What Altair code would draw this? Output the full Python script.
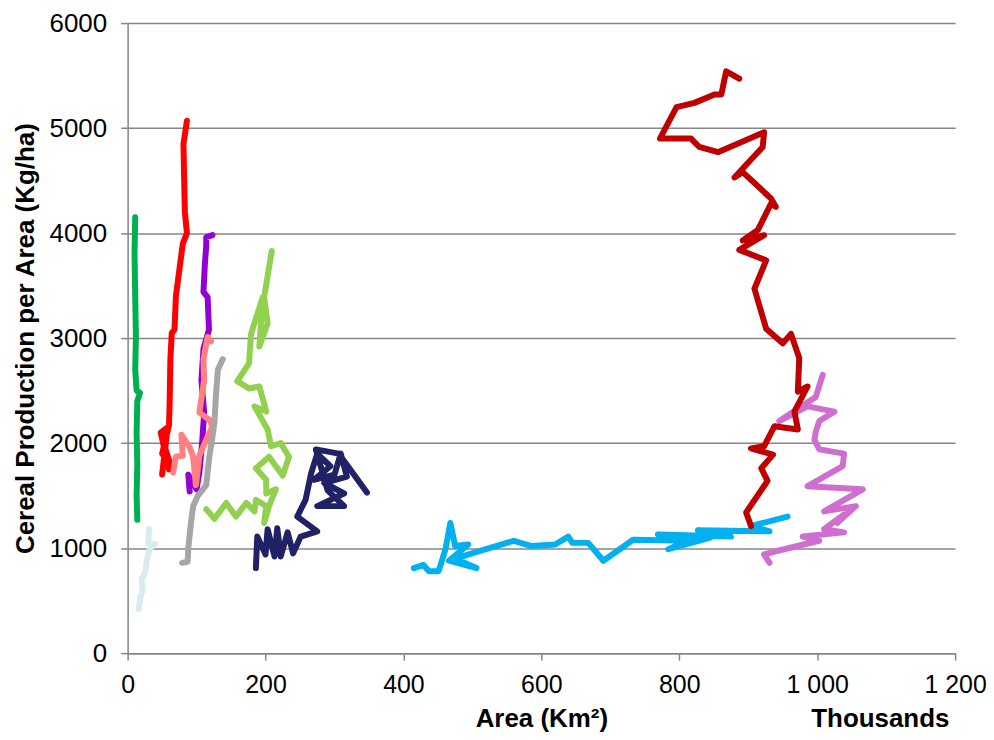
import altair as alt
import pandas as pd

series_names = ["S01", "S02", "S03", "S04", "S05", "S06", "S07", "S08", "S09", "S10", "S11"]
series_colors = ["#00B050", "#D8ECEF", "#FF0000", "#9400D3", "#FF8080", "#A6A6A6",
                 "#92D050", "#212166", "#00B0F0", "#D06ED0", "#C00000"]

green_x = [14, 13, 14, 13, 14, 18, 13, 11, 12, 11, 10, 11]
green_y = [1270, 1500, 1800, 2100, 2400, 2480, 2500, 2700, 3000, 3400, 3800, 4150]

pale_x = [16, 18, 22, 20, 26, 28, 32, 40, 30, 31]
pale_y = [420, 520, 600, 700, 780, 900, 990, 1040, 1050, 1180]

red_x = [50, 58, 48, 60, 52, 62, 50, 60, 61, 62, 64, 68, 70, 74, 80, 86, 83, 82, 81, 86]
red_y = [1700, 2150, 2100, 1750, 2000, 1800, 1900, 2170, 2400, 2800, 3050, 3080, 3400, 3600,
         3900, 4000, 4200, 4500, 4850, 5070]

purple_x = [90, 88, 100, 104, 108, 111, 107, 110, 118, 116, 110, 112, 114, 114, 123]
purple_y = [1540, 1700, 1560, 1720, 2000, 2290, 2600, 2900, 3080, 3390, 3440, 3700, 3880, 3960, 3980]

salmon_x = [66, 70, 80, 78, 90, 95, 99, 104, 114, 123, 119, 104, 111, 110, 116, 121]
salmon_y = [1720, 1870, 1880, 2080, 1960, 1870, 1600, 1880, 2030, 2160, 2220, 2290, 2600, 2800, 3010, 2970]

gray_x = [79, 87, 88, 92, 95, 102, 114, 118, 124, 126, 128, 131, 138]
gray_y = [860, 870, 1000, 1250, 1400, 1500, 1600, 1850, 2100, 2200, 2450, 2700, 2800]

lgreen_x = [114, 126, 143, 157, 172, 184, 186, 201, 198, 205, 215, 201, 201, 186, 205, 225, 234, 222,
            208, 203, 184, 201, 191, 176, 159, 176, 179, 196, 191, 203, 198, 209]
lgreen_y = [1370, 1280, 1430, 1300, 1430, 1350, 1460, 1400, 1240, 1400, 1560, 1520, 1650, 1760, 1870,
            1690, 1870, 2000, 1970, 2130, 2350, 2300, 2540, 2520, 2590, 2760, 3040, 3390, 2920, 3140,
            3390, 3830]

navy_x = [186, 188, 200, 203, 213, 217, 222, 232, 240, 251, 275, 246, 258, 266, 275, 294, 270, 300,
          309, 318, 285, 314, 275, 314, 290, 273, 306, 347]
navy_y = [810, 1110, 940, 1180, 920, 1190, 920, 1150, 950, 1110, 1160, 1300, 1460, 1710, 1900, 1780,
          1650, 1700, 1900, 1680, 1620, 1520, 1400, 1400, 1550, 1940, 1900, 1530]

sky_x = [415, 429, 437, 451, 461, 468, 475, 494, 466, 506, 475, 504, 560, 586, 620, 639, 645, 668,
         690, 733, 813, 784, 845, 769, 875, 827, 931, 904, 957]
sky_y = [810, 840, 780, 780, 990, 1240, 1020, 1035, 880, 810, 900, 960, 1070, 1020, 1035, 1110, 1050,
         1050, 880, 1080, 1070, 990, 1100, 1130, 1110, 1170, 1160, 1210, 1300]

orchid_x = [931, 923, 940, 1003, 979, 1039, 1010, 1039, 1029, 1056, 1010, 1066, 986, 1037, 1039, 1003,
            996, 998, 1003, 1025, 986, 945, 998, 1008]
orchid_y = [860, 940, 970, 1070, 1110, 1150, 1180, 1320, 1240, 1400, 1350, 1560, 1590, 1780, 1900,
            1940, 2030, 2110, 2210, 2300, 2350, 2210, 2440, 2650]

dred_x = [904, 897, 928, 919, 936, 904, 923, 938, 972, 967, 986, 972, 974, 962, 950, 926, 909, 926,
          887, 923, 892, 914, 933, 940, 933, 892, 880, 921, 923, 856, 829, 817, 772, 796, 822, 851,
          861, 868, 887]
dred_y = [1210, 1340, 1640, 1760, 1890, 1950, 1970, 2160, 2130, 2300, 2540, 2490, 2810, 3040, 2950,
          3090, 3470, 3740, 3840, 3980, 3930, 4030, 4280, 4250, 4330, 4580, 4530, 4820, 4960, 4770,
          4820, 4900, 4900, 5200, 5240, 5320, 5320, 5540, 5470]

all_x = [green_x, pale_x, red_x, purple_x, salmon_x, gray_x, lgreen_x, navy_x, sky_x, orchid_x, dred_x]
all_y = [green_y, pale_y, red_y, purple_y, salmon_y, gray_y, lgreen_y, navy_y, sky_y, orchid_y, dred_y]

rows = []
for name, xs, ys in zip(series_names, all_x, all_y):
    for i, (xv, yv) in enumerate(zip(xs, ys)):
        rows.append({"series": name, "i": i, "x": xv, "y": yv})
df = pd.DataFrame(rows)

FONT = "Liberation Sans"
GRAY = "#868686"

lines = alt.Chart(df).mark_line(strokeWidth=6, strokeCap="round", strokeJoin="round").encode(
    x=alt.X("x:Q", scale=alt.Scale(domain=[0, 1200], nice=False),
            axis=alt.Axis(values=[0, 200, 400, 600, 800, 1000, 1200],
                          labelExpr="replace(format(datum.value, ','), ',', ' ')",
                          title="Area (Km²)", titleX=415, titleY=74, titleBaseline="alphabetic",
                          titleFontSize=26, titleFontWeight="bold", titleFont=FONT,
                          labelFont=FONT, labelFontSize=25, labelColor="#000000",
                          labelPadding=12, tickSize=7, tickColor=GRAY, tickWidth=1.5,
                          domainColor=GRAY, domainWidth=1.5, grid=False, labelFlush=False)),
    y=alt.Y("y:Q", scale=alt.Scale(domain=[0, 6000], nice=False),
            axis=alt.Axis(values=[0, 1000, 2000, 3000, 4000, 5000, 6000], format="d",
                          title="Cereal Production per Area (Kg/ha)",
                          titleX=-102, titleY=316, titleAngle=-90, titleAlign="center",
                          titleBaseline="middle",
                          titleFontSize=26, titleFontWeight="bold", titleFont=FONT,
                          labelFont=FONT, labelFontSize=26, labelColor="#000000",
                          labelPadding=14, tickSize=7, tickColor=GRAY, tickWidth=1.5,
                          domainColor=GRAY, domainWidth=1.5, grid=True, gridColor=GRAY,
                          gridWidth=1.5, labelFlush=False)),
    color=alt.Color("series:N", scale=alt.Scale(domain=series_names, range=series_colors), legend=None),
    detail="series:N",
    order="i:Q",
)

thousands = alt.Chart(pd.DataFrame({"t": ["Thousands"]})).mark_text(
    font=FONT, fontSize=26, fontWeight="bold", align="center", baseline="alphabetic", color="#000000"
).encode(text="t:N", x=alt.value(755), y=alt.value(706))

chart = alt.layer(lines, thousands).properties(
    width=830, height=632,
    autosize=alt.AutoSizeParams(type="none"),
    padding={"left": 120, "top": 14, "right": 31, "bottom": 80},
).configure_view(stroke=None)

chart.save("out.html", embed_options={"renderer": "svg", "actions": False})
